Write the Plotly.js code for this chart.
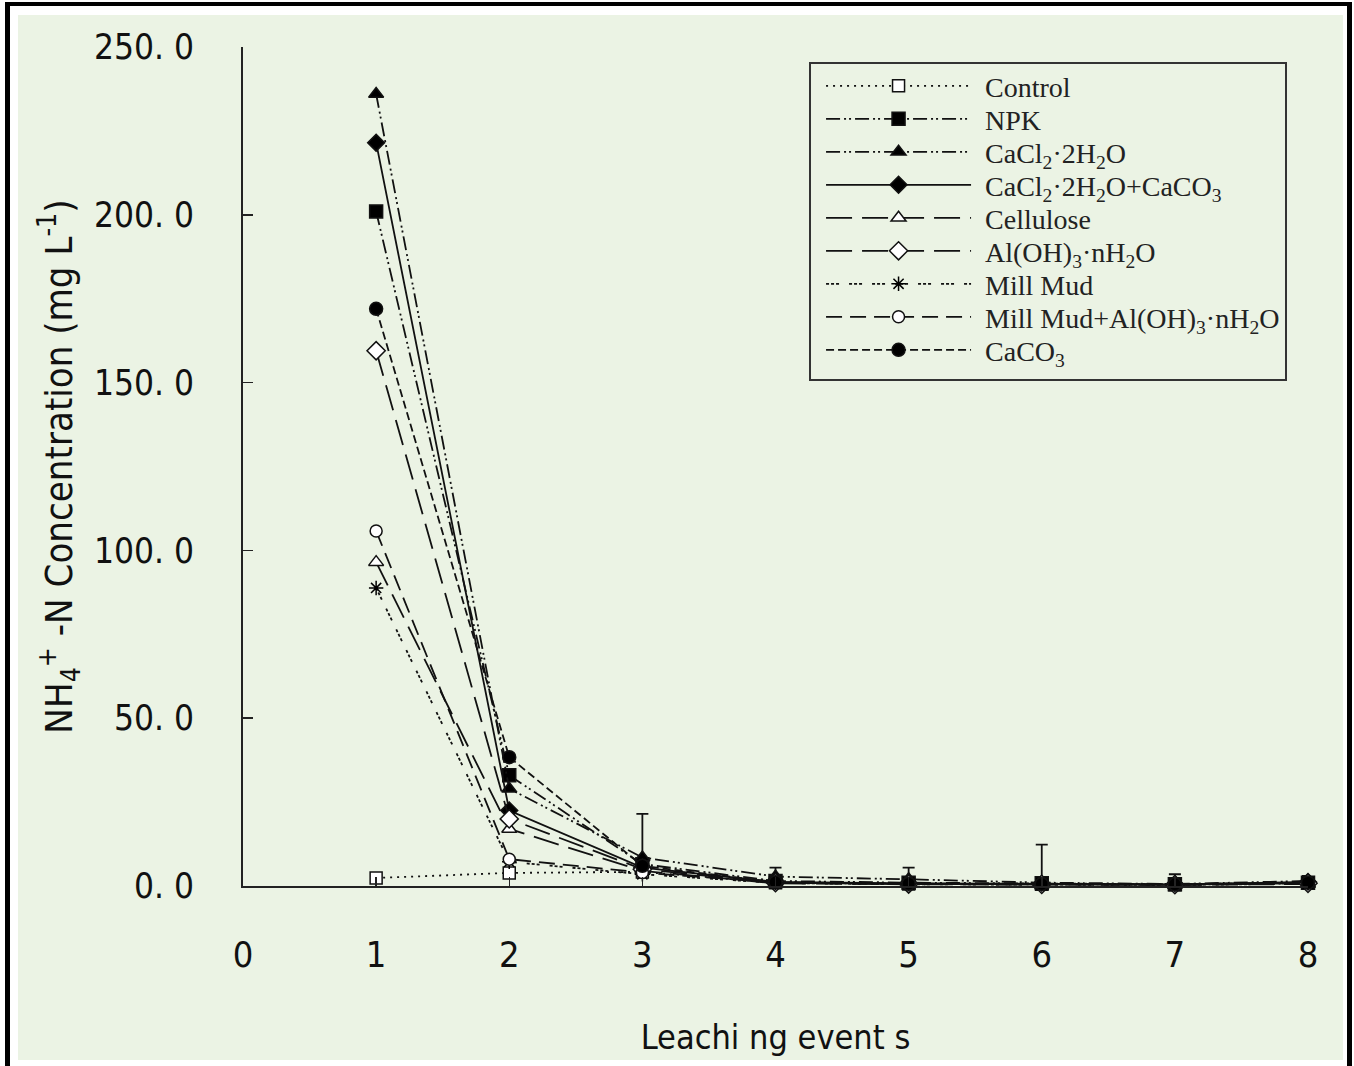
<!DOCTYPE html>
<html>
<head>
<meta charset="utf-8">
<script src="https://cdn.plot.ly/plotly-3.0.1.min.js"></script>
<style>
  html, body { margin:0; padding:0; background:#ffffff; }
  #wrap { position:relative; width:1354px; height:1066px; overflow:hidden; background:#ffffff; }
  #frameL { position:absolute; left:5px; top:2px; width:5px; height:1064px; background:#000; }
  #frameT { position:absolute; left:5px; top:2px; width:1347px; height:4px; background:#000; }
  #frameR { position:absolute; left:1347px; top:2px; width:5px; height:1064px; background:#000; }
  #panel { position:absolute; left:18px; top:15px; width:1325px; height:1045px; background:#ebf3e4; }
  #chart { position:absolute; left:0; top:0; width:1354px; height:1066px; }
</style>
</head>
<body>
<div id="wrap">
  <div id="frameL"></div><div id="frameT"></div><div id="frameR"></div>
  <div id="panel"></div>
  <div id="chart"></div>
</div>
<script>
// Leaching events
const events = [1, 2, 3, 4, 5, 6, 7, 8];

// NH4+-N concentration (mg L-1) per treatment
const control      = [2.4, 3.9, 4.2, 1.0, 0.6, 0.5, 0.4, 0.8];
const npk          = [201.0, 33.0, 6.5, 1.5, 1.0, 0.8, 0.5, 1.0];
const cacl2        = [236.0, 29.0, 8.5, 2.8, 2.0, 1.0, 0.6, 1.5];
const cacl2Caco3   = [221.5, 22.5, 5.5, 1.2, 0.8, 0.6, 0.5, 1.2];
const cellulose    = [96.5, 17.0, 4.5, 0.8, 0.5, 0.4, 0.3, 0.6];
const aloh3        = [159.5, 20.0, 5.0, 1.0, 0.6, 0.5, 0.4, 0.8];
const millMud      = [88.8, 7.2, 3.5, 0.9, 0.5, 0.4, 0.3, 0.7];
const millMudAloh3 = [105.8, 8.0, 4.0, 1.0, 0.6, 0.5, 0.4, 0.9];
const caco3        = [172.0, 38.4, 6.0, 1.1, 0.7, 0.6, 0.5, 1.0];

// Upper error (mg L-1) shown on the NPK series
const npkErrUp = [null, null, 15.0, 4.0, 4.5, 11.5, 3.0, 2.0];

// Labels
const seriesNames = [
  'Control',
  'NPK',
  'CaCl<sub>2</sub>·2H<sub>2</sub>O',
  'CaCl<sub>2</sub>·2H<sub>2</sub>O+CaCO<sub>3</sub>',
  'Cellulose',
  'Al(OH)<sub>3</sub>·nH<sub>2</sub>O',
  'Mill Mud',
  'Mill Mud+Al(OH)<sub>3</sub>·nH<sub>2</sub>O',
  'CaCO<sub>3</sub>'
];
const yTickVals = [0, 50, 100, 150, 200, 250];
const yTickText = ['0. 0', '50. 0', '100. 0', '150. 0', '200. 0', '250. 0'];
const xTickVals = [0, 1, 2, 3, 4, 5, 6, 7, 8];

const seriesData = [control, npk, cacl2, cacl2Caco3, cellulose, aloh3, millMud, millMudAloh3, caco3];
const styles = [
  {dash:'2px,5px', symbol:'square', fill:'#ffffff', size:12},
  {dash:'14px,4px,2px,3px,2px,4px', symbol:'square', fill:'#000000', size:13},
  {dash:'14px,4px,2px,3px,2px,4px', symbol:'triangle-up', fill:'#000000', size:13},
  {dash:'solid', symbol:'diamond', fill:'#000000', size:13},
  {dash:'26px,10px', symbol:'triangle-up', fill:'#ffffff', size:13},
  {dash:'26px,10px', symbol:'diamond', fill:'#ffffff', size:14},
  {dash:'3px,2px,3px,2px,3px,10px', symbol:'asterisk-open', fill:'#000000', size:12},
  {dash:'16px,8px', symbol:'circle', fill:'#ffffff', size:12},
  {dash:'8px,4px', symbol:'circle', fill:'#000000', size:13}
];

const narrow = 'DejaVu Sans Condensed, Liberation Sans Narrow, Arial Narrow, sans-serif';

const traces = seriesData.map((vals, i) => {
  const s = styles[i];
  const t = {
    type:'scatter', mode:'lines+markers', name: seriesNames[i],
    x: events, y: vals, cliponaxis:false,
    line:{color:'#111111', width:1.8, dash:s.dash},
    marker:{symbol:s.symbol, size:s.size, color:s.fill,
            line:{color:'#111111', width:1.5}}
  };
  if (i === 1) {
    t.error_y = {type:'data', symmetric:false, array:npkErrUp,
                 arrayminus: npkErrUp.map(v => v === null ? null : 0),
                 color:'#111111', thickness:1.8, width:6};
  }
  return t;
});

const ITEM_W = 164;

const layout = {
  width:1354, height:1066,
  paper_bgcolor:'rgba(0,0,0,0)', plot_bgcolor:'rgba(0,0,0,0)',
  margin:{l:243, r:46, t:47, b:180},
  showlegend:true,
  legend:{x:0.5315, y:0.982, xanchor:'left', yanchor:'top',
          bgcolor:'#ebf3e4', bordercolor:'#333333', borderwidth:2,
          font:{family:'Liberation Serif, Times New Roman, serif', size:28, color:'#222'},
          itemwidth:ITEM_W, tracegroupgap:0},
  xaxis:{range:[0, 8], tickvals:xTickVals, ticktext:xTickVals.map(String),
         showgrid:false, zeroline:false, showline:true, linecolor:'#222', linewidth:2,
         ticks:'inside', ticklen:9, tickwidth:1.5, tickcolor:'#222',
         ticklabelstandoff:36,
         tickfont:{family:narrow, size:36, color:'#111'},
         title:{text:'Leachi ng event s', standoff:51,
                font:{family:narrow, size:34, color:'#111'}}},
  yaxis:{range:[0, 250], tickvals:yTickVals, ticktext:yTickText,
         showgrid:false, zeroline:false, showline:true, linecolor:'#222', linewidth:2,
         ticks:'inside', ticklen:10, tickwidth:1.5, tickcolor:'#222',
         ticklabelstandoff:40,
         tickfont:{family:narrow, size:35, color:'#111'},
         title:{text:'NH<sub>4</sub><sup>+</sup> -N Concentration (mg L<sup>-1</sup>)', standoff:10,
                font:{family:narrow, size:38, color:'#111'}}}
};

Plotly.newPlot('chart', traces, layout, {staticPlot:true}).then(gd => {
  // long sample lines and tight row spacing, as in the original legend
  const rowGap = 33;
  const items = gd.querySelectorAll('.legend .traces');
  let y0 = null, x0 = 0;
  items.forEach((tr, k) => {
    const m = /translate\(\s*([-\d.]+)[ ,]+([-\d.]+)\s*\)/.exec(tr.getAttribute('transform') || '');
    if (m) {
      if (y0 === null) { y0 = parseFloat(m[2]) - 3; x0 = parseFloat(m[1]); }
      tr.setAttribute('transform', 'translate(' + x0 + ',' + (y0 + k * rowGap) + ')');
    }
    tr.querySelectorAll('.legendlines path').forEach(p => p.setAttribute('d', 'M15,0h' + (ITEM_W - 19)));
    tr.querySelectorAll('.legendpoints path.scatterpts').forEach(p => {
      p.setAttribute('transform', 'translate(' + (15 + (ITEM_W - 19) / 2) + ',0)');
    });
  });
  const bg = gd.querySelector('.legend rect.bg');
  if (bg && y0 !== null) {
    bg.setAttribute('height', String(y0 + (items.length - 1) * rowGap + 29));
  }
});
</script>
</body>
</html>
